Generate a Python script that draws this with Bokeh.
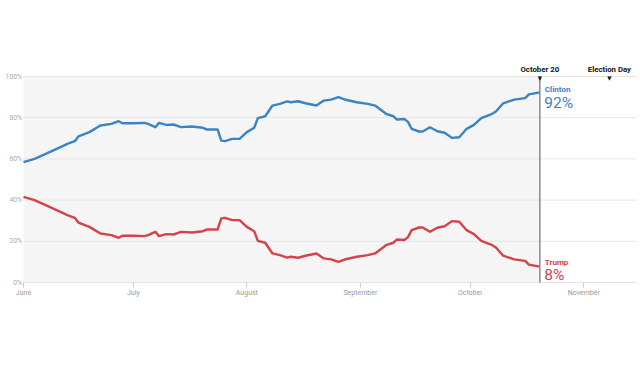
import pandas as pd
from bokeh.plotting import figure
from bokeh.models import Label, BoxAnnotation, FixedTicker, Range1d
from bokeh.embed import file_html
from bokeh.resources import INLINE

dates = ["2016-06-01", "2016-06-04", "2016-06-06", "2016-06-09", "2016-06-13", "2016-06-15",
         "2016-06-16", "2016-06-19", "2016-06-22", "2016-06-25", "2016-06-27", "2016-06-28",
         "2016-07-01", "2016-07-04", "2016-07-05", "2016-07-07", "2016-07-08", "2016-07-10",
         "2016-07-12", "2016-07-14", "2016-07-17", "2016-07-20", "2016-07-21", "2016-07-24",
         "2016-07-25", "2016-07-26", "2016-07-28", "2016-07-30", "2016-08-01", "2016-08-03",
         "2016-08-04", "2016-08-06", "2016-08-08", "2016-08-10", "2016-08-12", "2016-08-13",
         "2016-08-15", "2016-08-17", "2016-08-20", "2016-08-22", "2016-08-24", "2016-08-26",
         "2016-08-28", "2016-08-31", "2016-09-03", "2016-09-05", "2016-09-08", "2016-09-10",
         "2016-09-11", "2016-09-13", "2016-09-14", "2016-09-15", "2016-09-17", "2016-09-18",
         "2016-09-20", "2016-09-22", "2016-09-24", "2016-09-26", "2016-09-28", "2016-09-30",
         "2016-10-02", "2016-10-04", "2016-10-07", "2016-10-08", "2016-10-10", "2016-10-13",
         "2016-10-16", "2016-10-17", "2016-10-20"]

clinton = [58.4, 60.0, 61.6, 64.0, 67.3, 68.6, 70.9, 73.0, 76.2, 77.0, 78.3, 77.3,
           77.3, 77.5, 77.0, 75.4, 77.5, 76.5, 76.7, 75.4, 75.7, 75.1, 74.3, 74.3,
           68.9, 68.6, 69.7, 69.7, 73.0, 75.1, 79.8, 80.7, 85.9, 86.7, 87.9, 87.5,
           88.0, 87.0, 85.9, 88.3, 88.8, 90.0, 88.7, 87.5, 86.7, 85.9, 81.9, 80.7,
           79.1, 79.4, 78.0, 74.6, 73.3, 73.3, 75.4, 73.4, 72.7, 70.2, 70.5, 74.6,
           76.5, 79.8, 81.9, 83.0, 87.0, 88.8, 89.5, 91.3, 92.3]

trump = [41.6, 40.0, 38.4, 36.0, 32.7, 31.4, 29.1, 27.0, 23.8, 23.0, 21.7, 22.7,
         22.7, 22.5, 23.0, 24.6, 22.5, 23.5, 23.3, 24.6, 24.3, 24.9, 25.7, 25.7,
         31.1, 31.4, 30.3, 30.3, 27.0, 24.9, 20.2, 19.3, 14.1, 13.3, 12.1, 12.5,
         12.0, 13.0, 14.1, 11.7, 11.2, 10.0, 11.3, 12.5, 13.3, 14.1, 18.1, 19.3,
         20.9, 20.6, 22.0, 25.4, 26.7, 26.7, 24.6, 26.6, 27.3, 29.8, 29.5, 25.4,
         23.5, 20.2, 18.1, 17.0, 13.0, 11.2, 10.5, 8.7, 7.7]

month_starts = ["2016-06-01", "2016-07-01", "2016-08-01", "2016-09-01", "2016-10-01", "2016-11-01"]
month_names = ["June", "July", "August", "September", "October", "November"]
y_ticks = [0, 20, 40, 60, 80, 100]
now_label = "October 20"
election_date = "2016-11-08"
election_label = "Election Day"
clinton_name = "Clinton"
trump_name = "Trump"

origin = pd.Timestamp("2016-06-01")
def to_day(s):
    return float((pd.Timestamp(s) - origin).days)

xs = [to_day(d) for d in dates]
tick_days = [to_day(d) for d in month_starts]
now_day = xs[-1]
elec_day = to_day(election_date)

BLUE = "#3b84c4"
RED = "#d4434b"
FONT = "Roboto"

W, H = 640, 384
TOP, BOTTOM = 56, 97
TICK = 5
px_per_day = 3.662
px_per_pct = 2.06
left_px = 23
x_start = -left_px / px_per_day
x_end = x_start + W / px_per_day
grid_end = x_start + 636 / px_per_day
y_start = -TICK / px_per_pct
y_end = y_start + (H - TOP - BOTTOM) / px_per_pct

p = figure(width=W, height=H, x_range=Range1d(x_start, x_end), y_range=Range1d(y_start, y_end),
           y_axis_type=None, output_backend="svg", toolbar_location=None,
           min_border_left=0, min_border_right=0, min_border_top=TOP, min_border_bottom=BOTTOM)
p.outline_line_color = None
p.background_fill_color = "white"
p.border_fill_color = "white"
p.xgrid.visible = False

# shaded past region
p.add_layout(BoxAnnotation(left=0, right=now_day, bottom=0, top=100,
                           fill_color="#f5f5f5", fill_alpha=1.0, line_color=None, level="image"))

# horizontal gridlines
p.segment(x0=[0] * len(y_ticks), y0=y_ticks, x1=[grid_end] * len(y_ticks), y1=y_ticks,
          line_color="#e6e6e6", line_width=1)

ax = p.xaxis[0]
ax.ticker = FixedTicker(ticks=tick_days)
ax.major_label_overrides = {t: n for t, n in zip(tick_days, month_names)}
ax.axis_line_color = None
ax.major_tick_line_color = "#cccccc"
ax.major_tick_in = TICK
ax.major_tick_out = 0
ax.minor_tick_line_color = None
ax.major_label_standoff = 1
ax.major_label_text_font = FONT
ax.major_label_text_font_size = "7px"
ax.major_label_text_color = "#999999"

for v in y_ticks:
    p.add_layout(Label(x=0, y=v, x_offset=-1.5, text=f"{v}%", text_align="right",
                       text_baseline="middle", text_font=FONT, text_font_size="6.8px",
                       text_color="#aaaaaa"))

p.line(xs, clinton, line_color=BLUE, line_width=2.4, line_join="round")
p.line(xs, trump, line_color=RED, line_width=2.4, line_join="round")

# "now" vertical line
p.segment(x0=[now_day], y0=[0], x1=[now_day], y1=[100], line_color="#8a8a8a", line_width=1.5)

# top markers
for xd, lab in ((now_day, now_label), (elec_day, election_label)):
    p.add_layout(Label(x=xd, y=100, y_offset=7, text=lab, text_align="center",
                       text_baseline="middle", text_font=FONT, text_font_style="bold",
                       text_font_size="7.8px", text_color="#111111"))
    p.add_layout(Label(x=xd, y=100, y_offset=-1, text="\u25BC", text_align="center",
                       text_baseline="middle", text_font="DejaVu Sans",
                       text_font_size="5.5px", text_color="#111111"))

# end labels
p.add_layout(Label(x=now_day, y=100, x_offset=5, y_offset=-12.7, text=clinton_name,
                   text_align="left", text_baseline="middle", text_font=FONT,
                   text_font_style="bold", text_font_size="8px", text_color=BLUE))
p.add_layout(Label(x=now_day, y=100, x_offset=4.5, y_offset=-26.5, text=f"{round(clinton[-1])}%",
                   text_align="left", text_baseline="middle", text_font=FONT,
                   text_font_size="15.5px", text_color=BLUE))
p.add_layout(Label(x=now_day, y=0, x_offset=5, y_offset=20.3, text=trump_name,
                   text_align="left", text_baseline="middle", text_font=FONT,
                   text_font_style="bold", text_font_size="8px", text_color=RED))
p.add_layout(Label(x=now_day, y=0, x_offset=4.5, y_offset=8, text=f"{round(trump[-1])}%",
                   text_align="left", text_baseline="middle", text_font=FONT,
                   text_font_size="15.5px", text_color=RED))

open("out.html", "w").write(file_html(p, INLINE))
